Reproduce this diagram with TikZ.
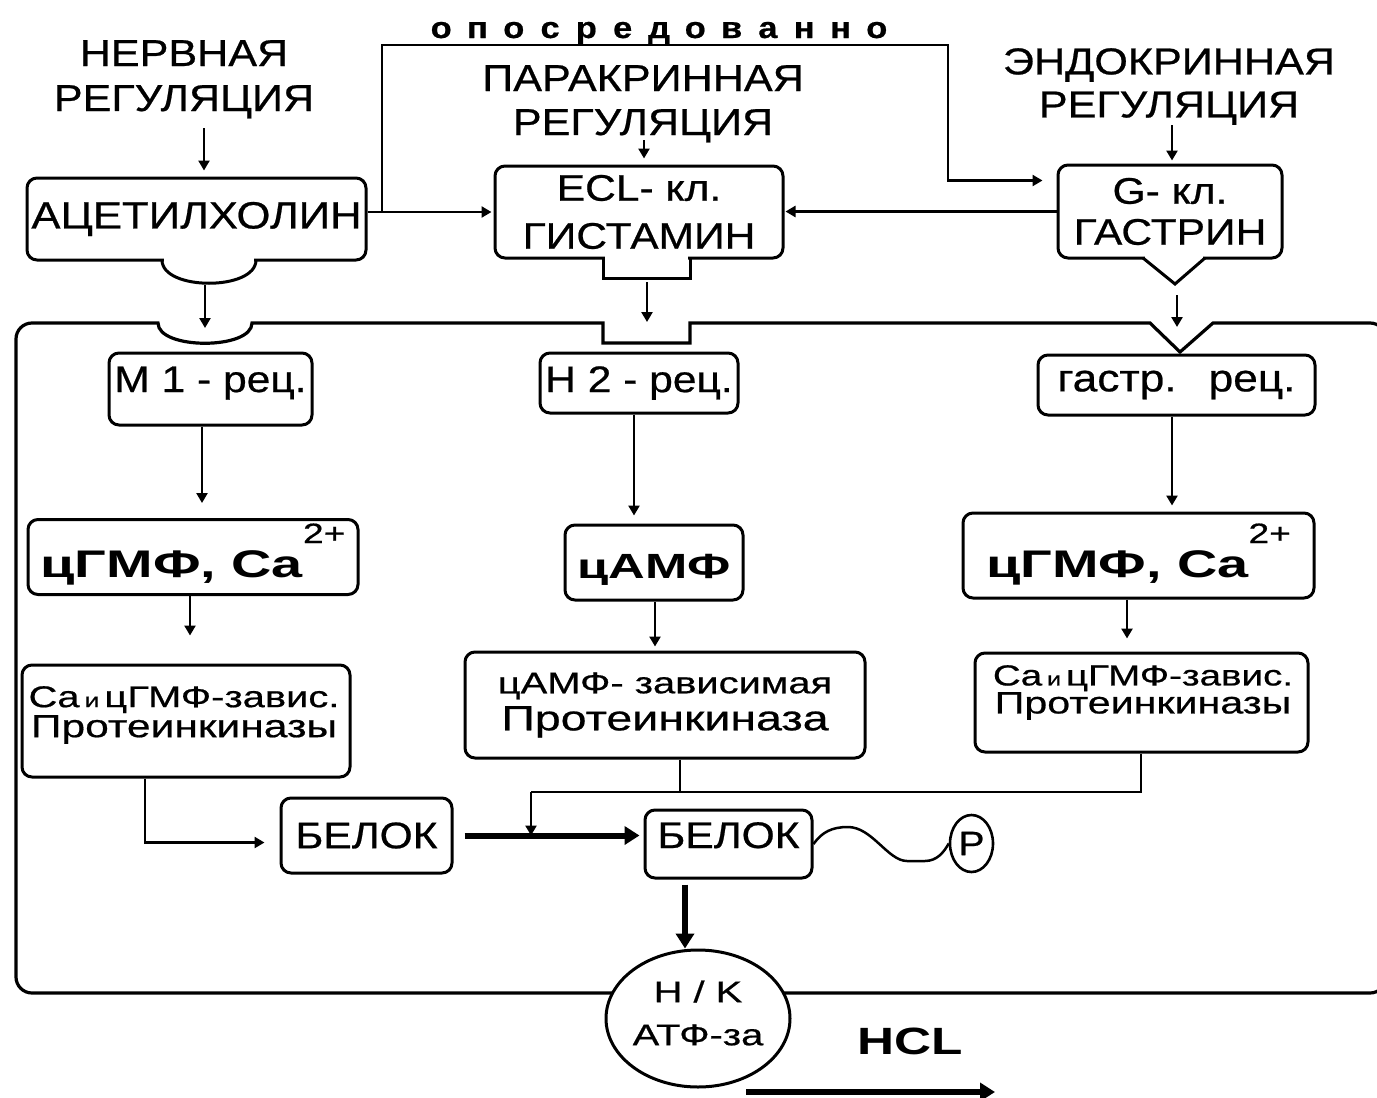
\documentclass[tikz,border=0pt]{standalone}
\usepackage{fontspec}
\setmainfont{Liberation Sans}[FakeStretch=1.15, FakeBold=0.6]
\newfontfamily\rb{Liberation Sans}[FakeStretch=1.33, FakeBold=0.6]
\newfontfamily\bb{Liberation Sans}[FakeStretch=1.45]
\newfontfamily\bh{Liberation Sans}[FakeStretch=1.35]
\usetikzlibrary{arrows.meta,calc,shapes.geometric}
\newcommand\fsz[2]{\fontsize{#1}{#2}\selectfont}
\newcommand\lsp[1]{\makebox[36.3pt]{#1}}
\newcommand\cgtext{цГМФ,\ Ca\raisebox{34pt}{\rb\mdseries\fsz{28}{28}2+}}
\begin{document}
\begin{tikzpicture}[x=1pt,y=-1pt,
  box/.style={draw, line width=3pt, rounded corners=10pt, inner sep=0pt, align=center},
  bline/.style={line width=3pt},
  txt/.style={inner sep=0pt, align=center},
  arr/.style={line width=2.8pt, -{Triangle[length=10pt,width=11pt]}},
  tarr/.style={line width=6pt, -{Triangle[length=15pt,width=18pt]}},
  ln/.style={line width=2.8pt},
  mem/.style={line width=3.2pt},
]
\useasboundingbox (0,0) rectangle (1377,1098);
\fill[white] (0,0) rectangle (1377,1098);

% labels
\node[txt, anchor=north, font=\fsz{37.5}{45}] (nerv) at (184,40) {НЕРВНАЯ\\РЕГУЛЯЦИЯ};
\node[txt, anchor=north, font=\fsz{37.5}{44}] (para) at (643,65) {ПАРАКРИННАЯ\\РЕГУЛЯЦИЯ};
\node[txt, anchor=north, font=\fsz{37.5}{43}] (endo) at (1169,48) {ЭНДОКРИННАЯ\\РЕГУЛЯЦИЯ};
\node[txt, anchor=base, font=\bfseries\fsz{30}{30}] (opos) at (659,38) {\lsp{о}\lsp{п}\lsp{о}\lsp{с}\lsp{р}\lsp{е}\lsp{д}\lsp{о}\lsp{в}\lsp{а}\lsp{н}\lsp{н}\lsp{о}};

% cell membrane
\draw[mem] (400,323) -- (252,323) .. controls (252,350) and (158,350) .. (158,323) -- (150,323)
  [rounded corners=16pt] -- (16,323) -- (16,993) -- (1386,993) -- (1386,323) -- (1300,323)
  [sharp corners] -- (1213,323) -- (1180,352) -- (1150,323) -- (690,323) -- (690,343) -- (603,343) -- (603,323) -- cycle;

% top boxes
\node[box, font=\fsz{38}{38}, minimum width=339, minimum height=82] (ach) at (196.5,219) {АЦЕТИЛХОЛИН};
\fill[white] (163.7,257.3) rectangle (254.3,262.7);
\draw[bline] (162,260) .. controls (162,291) and (256,291) .. (256,260);

\node[box, font=\fsz{37}{48}, minimum width=288, minimum height=92] (ecl) at (639,212) {ECL- кл.\\ГИСТАМИН};
\fill[white] (604.7,256) rectangle (688.3,260.7);
\draw[bline] (603,258) -- (603,278) -- (690,278) -- (690,258);

\node[box, font=\fsz{37}{41}, minimum width=224, minimum height=93] (g) at (1170,211.5) {G- кл.\\ГАСТРИН};
\fill[white] (1145,256) rectangle (1203,260.7);
\draw[bline] (1143,258) -- (1175,284) -- (1205,258);

% receptors
\node[box, font=\fsz{37}{37}, minimum width=203, minimum height=72, text height=27pt, text depth=21pt] (m1) at (210.5,389) {M 1 - рец.};
\node[box, font=\fsz{37}{37}, minimum width=198, minimum height=60] (h2) at (639,383) {H 2 - рец.};
\node[box, font=\fsz{38.5}{38.5}, minimum width=277, minimum height=60] (gas) at (1176.5,385) {гастр.\hspace{32pt}рец.};

% second messengers
\node[box, font=\bb\bfseries\fsz{38.5}{38.5}, minimum width=330, minimum height=75, text height=40pt, text depth=0pt] (cg1) at (193,557) {\cgtext};
\node[box, font=\bb\bfseries\fsz{35}{35}, minimum width=178, minimum height=75, text height=36pt, text depth=5pt] (camp) at (654,562.5) {цАМФ};
\node[box, font=\bb\bfseries\fsz{38.5}{38.5}, minimum width=351, minimum height=85, text height=43pt, text depth=0pt] (cg2) at (1138.5,555.5) {\cgtext};

% kinases
\node[box, minimum width=328, minimum height=112] (pk1) at (186,721) {};
\node[txt, anchor=north, font=\rb\fsz{32}{30}] (pk1t) at (184,686) {{\fsz{30}{30}Ca\,{\fsz{20}{20}и}\,цГМФ-завис.}\\Протеинкиназы};
\node[box, font=\rb\fsz{35}{37}, minimum width=400, minimum height=106] (pk2) at (665,705) {{\fsz{30}{37}цАМФ- зависимая}\\Протеинкиназа};
\node[box, minimum width=333, minimum height=99] (pk3) at (1141.5,702.5) {};
\node[txt, anchor=north, font=\rb\fsz{31}{28}] (pk3t) at (1143,665) {{\fsz{29}{28}Ca\,{\fsz{19}{19}и}\,цГМФ-завис.}\\Протеинкиназы};

% proteins
\node[box, font=\fsz{37}{37}, minimum width=171, minimum height=75] (bel1) at (366.5,835.5) {БЕЛОК};
\node[box, font=\fsz{37}{37}, minimum width=167, minimum height=68, text height=26pt, text depth=18pt] (bel2) at (728.5,844) {БЕЛОК};
\node[draw, ellipse, line width=2.6pt, minimum width=43, minimum height=57, inner sep=0pt, font=\fsz{34}{34}] (p) at (971.5,843.5) {P};

% pump
\node[draw, ellipse, fill=white, line width=3pt, minimum width=184, minimum height=137, inner sep=0pt] (atp) at (698,1018.5) {};
\node[txt, font=\rb\fsz{30}{43}] (atpt) at (698,1013) {H / K\\АТФ-за};
\node[txt, font=\bh\bfseries\fsz{38}{38}] (hcl) at (910,1041) {HCL};

% connectors (top)
\coordinate (nervp) at (204,128);
\draw[arr, shorten >=6pt] (nervp) -- (nervp |- ach.north);
\coordinate (parap) at (644,140);
\draw[arr, shorten >=6pt] (parap) -- (parap |- ecl.north);
\coordinate (endop) at (1172,125);
\draw[arr, shorten >=3pt] (endop) -- (endop |- g.north);

\coordinate (ob) at (382,45);
\coordinate (oe) at (948,45);
\draw[arr, shorten >=2pt] (ach.east |- ecl.west) -- (ecl.west);
\draw[arr, shorten >=14pt] (ach.east |- ecl.west) -| (ob) -- (oe) |- ($(g.north west)+(0,17)$);
\draw[arr, shorten >=1pt] (g.west) -- (g.west -| ecl.east);

\coordinate (achb) at (205,285); \coordinate (m1n) at (205,343);
\draw[arr, shorten >=15pt] (achb) -- (m1n);
\coordinate (eclb) at (647,278); \coordinate (h2n) at (647,343);
\draw[arr, shorten <=4pt, shorten >=21pt] (eclb) -- (h2n);
\coordinate (gb) at (1177,284); \coordinate (gn) at (1177,352);
\draw[arr, shorten <=11pt, shorten >=25pt] (gb) -- (gn);

% connectors (inside)
\draw[arr, shorten >=15pt] (m1.south -| 202,0) -- (cg1.north -| 202,0);
\draw[arr, shorten >=8pt] (h2.south -| 634,0) -- (camp.north -| 634,0);
\draw[arr, shorten >=6pt] (gas.south -| 1172,0) -- (cg2.north -| 1172,0);
\draw[arr, shorten >=28pt] (cg1.south -| 190,0) -- (pk1.north -| 190,0);
\draw[arr, shorten >=4pt] (camp.south -| 655,0) -- (pk2.north -| 655,0);
\draw[arr, shorten >=13pt] (cg2.south -| 1127,0) -- (pk3.north -| 1127,0);

\draw[arr, shorten >=15pt] (pk1.south -| 145,0) |- ($(bel1.west)+(0,7)$);
\coordinate (j) at (531,792);
\draw[ln] (pk3.south -| 1141,0) |- (j);
\draw[ln] (pk2.south -| 680,0) -- (j -| 680,0);
\draw[arr] (j) -- (j |- bel1.east);
\draw[tarr, shorten <=11pt, shorten >=4pt] (bel1.east) -- (bel1.east -| bel2.west);
\draw[tarr, shorten <=5pt] (bel2.south -| 685,0) -- (atp.north -| 685,0);

\draw[line width=2.5pt] (bel2.east) .. controls (822,832) and (832,827) .. (848,827)
  .. controls (872,827) and (888,861) .. (907,861) -- (925,861)
  .. controls (937,861) and (944,852) .. (p.west);

\coordinate (hcl1) at (746,1092); \coordinate (hcl2) at (995,1092);
\draw[tarr] (hcl1) -- (hcl2);
\end{tikzpicture}
\end{document}
